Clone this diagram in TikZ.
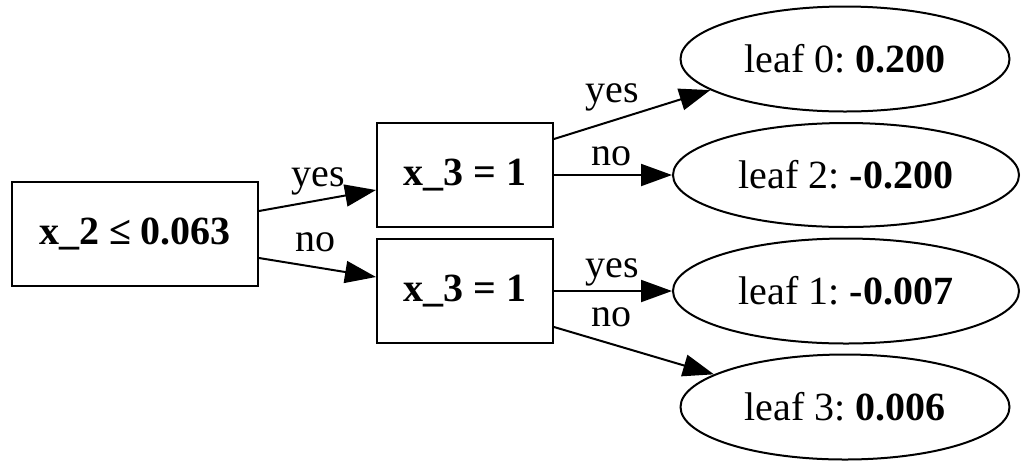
\documentclass[tikz,border=0pt]{standalone}
\usepackage{fontspec}
\setmainfont{Liberation Serif}
\usetikzlibrary{shapes.geometric,arrows.meta}
\frenchspacing
\begin{document}
\begin{tikzpicture}[x=1pt,y=-1pt,
  every node/.style={font=\fontsize{40}{48}\selectfont},
  splitbox/.style={draw,line width=2pt,inner sep=0pt,font=\fontsize{40}{48}\selectfont\bfseries},
  leafnode/.style={draw,ellipse,line width=2pt,inner sep=0pt},
  lbl/.style={inner sep=0pt},
  edge/.style={line width=2pt,-{Triangle[length=31pt,width=22pt]}}]
\useasboundingbox (0,0) rectangle (1024,467);
\node[splitbox,minimum width=246pt,minimum height=104pt] (root) at (135,234) {x\_2 ≤ 0.063};
\node[splitbox,minimum width=176pt,minimum height=104pt] (b1) at (465,175) {x\_3 = 1};
\node[splitbox,minimum width=176pt,minimum height=104pt] (b2) at (465,291) {x\_3 = 1};
\node[leafnode,minimum width=329pt,minimum height=105pt] (l0) at (845,59) {leaf 0: \textbf{0.200}};
\node[leafnode,minimum width=346pt,minimum height=104pt] (l2) at (846,175) {leaf 2: \textbf{-0.200}};
\node[leafnode,minimum width=346pt,minimum height=105pt] (l1) at (846,291) {leaf 1: \textbf{-0.007}};
\node[leafnode,minimum width=329pt,minimum height=105pt] (l3) at (845,407) {leaf 3: \textbf{0.006}};
\draw[edge] ([yshift=23pt]root.east) -- ([yshift=-15pt]b1.west);
\draw[edge] ([yshift=-24pt]root.east) -- ([yshift=14pt]b2.west);
\draw[edge] ([yshift=36pt]b1.east) -- (l0.193);
\draw[edge] (b1.east) -- (l2.west);
\draw[edge] (b2.east) -- (l1.west);
\draw[edge] ([yshift=-36pt]b2.east) -- (l3.166);
\node[lbl] (t1) at (318,181) {yes};
\node[lbl] (t2) at (315,242) {no};
\node[lbl] (t3) at (612,97) {yes};
\node[lbl] (t4) at (611,156) {no};
\node[lbl] (t5) at (612,272) {yes};
\node[lbl] (t6) at (611,317) {no};
\end{tikzpicture}
\end{document}
